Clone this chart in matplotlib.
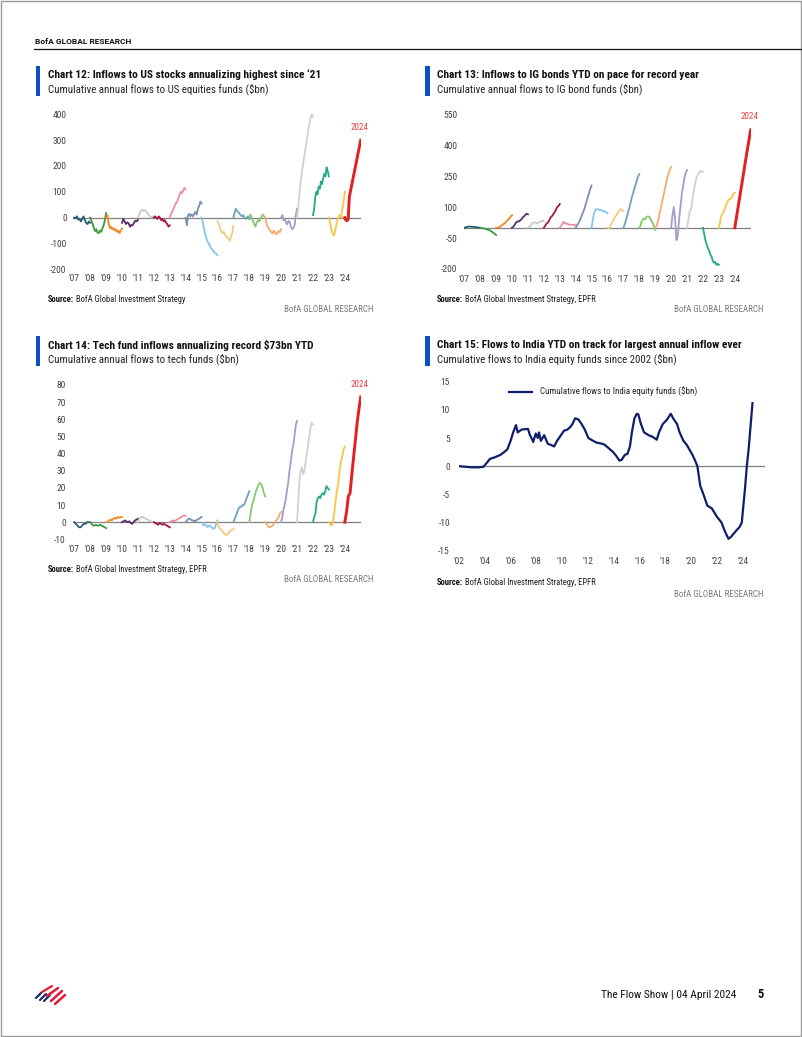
import matplotlib
matplotlib.use('Agg')
import matplotlib.pyplot as plt
from matplotlib.patches import Rectangle
from matplotlib.lines import Line2D

W, H = 802, 1037

# ---- data ----
years = list(range(2007, 2025))
year_ticks = ["'07", "'08", "'09", "'10", "'11", "'12", "'13", "'14", "'15",
              "'16", "'17", "'18", "'19", "'20", "'21", "'22", "'23", "'24"]
year_colors = ['#2a5d78', '#3c9a3c', '#ef8a22', '#5a2c6e', '#c9c9c9', '#a5163b',
               '#e98fa3', '#7c8db3', '#84c6ea', '#f6c97d', '#6aa5b8', '#84c96e',
               '#f6ab6a', '#a79bc9', '#d0d0d0', '#26a98b', '#f6c746', '#e41f1f']

# Chart 12: cumulative annual flows to US equity funds ($bn), one list per year
us_equity = [
    [0, -3, 5, -8, -5, -15, -5, 5, -10, -20, -25, -15, -20],
    [0, -12, -25, -40, -52, -45, -58, -60, -50, -55, -42, -30, -10, 18],
    [0, 10, -20, -40, -35, -45, -40, -50, -45, -55, -50, -60, -50, -42],
    [-20, -5, -15, -25, -18, -22, -35, -28, -30, -20, -12, -15, -8],
    [0, 12, 25, 30, 27, 30, 25, 20, 12, 5, 0, 5, 0],
    [0, 5, 0, -5, 5, 0, -10, -5, -15, -10, -20, -25, -35, -30],
    [0, 12, 25, 32, 45, 55, 62, 75, 88, 100, 95, 105, 115, 110],
    [0, -30, 8, 15, 5, 12, 5, 15, 22, 12, 35, 45, 62, 55],
    [0, -20, -45, -65, -80, -95, -100, -112, -120, -125, -130, -138, -140, -145],
    [-15, -22, -40, -52, -60, -55, -65, -72, -78, -82, -90, -75, -60, -32],
    [0, 20, 35, 25, 22, 15, 10, 5, 10, 0, -5, 0, 5, -5],
    [0, 12, 0, -12, -25, -35, -20, -10, -15, -5, 5, 12, 5, 0],
    [0, -22, -35, -42, -50, -56, -62, -50, -58, -65, -60, -52, -56, -45],
    [0, 10, -10, -5, -20, -26, -12, -16, -36, -45, -40, -30, 10, 35],
    [0, 40, 100, 140, 180, 210, 240, 270, 300, 330, 360, 385, 400, 390],
    [10, 30, 80, 100, 90, 120, 112, 140, 130, 152, 170, 160, 195, 180, 160],
    [0, -20, -45, -60, -70, -55, -30, -10, 5, 10, 0, 30, 60, 100],
    [0, -10, -12, -5, 80, 102, 124, 146, 168, 190, 212, 234, 256, 278, 300],
]

# Chart 13: cumulative annual flows to IG bond funds ($bn)
ig_bond = [
    [0, 2, 4, 5, 6, 5, 5, 4, 3, 3, 2, 0, 0],
    [0, -2, -3, -4, -5, -8, -10, -12, -15, -20, -25, -30, -35],
    [0, 0, 2, 5, 10, 15, 20, 25, 32, 40, 45, 55, 60],
    [0, 5, 15, 25, 30, 30, 35, 40, 50, 55, 62, 68, 65],
    [0, 5, 10, 20, 25, 25, 25, 20, 25, 30, 30, 35, 30],
    [0, 10, 20, 25, 35, 50, 55, 65, 75, 85, 100, 105, 115],
    [0, 10, 20, 28, 22, 20, 18, 15, 15, 15, 14, 12, 15],
    [0, 10, 20, 30, 45, 60, 75, 90, 110, 130, 150, 170, 190, 205],
    [0, 40, 70, 85, 90, 90, 88, 85, 85, 82, 80, 78, 75, 70],
    [0, -5, 5, 20, 30, 45, 55, 65, 75, 85, 90, 85, 80],
    [0, 15, 35, 55, 80, 100, 125, 150, 170, 190, 210, 230, 250, 260],
    [0, 10, 30, 40, 45, 40, 50, 55, 55, 50, 40, 30, 20, 5, -10],
    [0, 10, 30, 60, 90, 120, 150, 180, 210, 240, 260, 280, 295],
    [0, 60, 100, 40, -60, -40, 40, 100, 160, 200, 240, 265, 280],
    [0, 40, 80, 90, 130, 180, 210, 240, 255, 265, 275, 270, 272],
    [0, -30, -60, -80, -100, -110, -130, -140, -160, -170, -165, -180, -175, -180],
    [0, 30, 60, 70, 85, 100, 120, 130, 140, 140, 150, 165, 170],
    [0, 120, 240, 360, 475],
]

# Chart 14: cumulative annual flows to tech funds ($bn)
tech = [
    [0, -1, -2, -3, -3, -2, -1, -1, 0, 0, 0],
    [0, -1, -2, -2, -1.5, -2, -2, -1.5, -2, -2.5, -3, -3.5],
    [0, 0, 1, 1.5, 1, 2, 2.5, 2, 3, 2.5, 3, 3],
    [0, 0.5, 1, 0.5, 0, 0.5, -0.5, -1, 0, 1, 1.5, 2],
    [0, 2, 3, 3, 2.5, 2, 1.5, 1, 0.5, 0, 0],
    [0, -0.5, -1, -1.5, -0.5, -1, -1.5, -1, -1.5, -2, -2.5, -3],
    [0, 0.5, 1, 0.5, 1, 1.5, 2, 2.5, 3, 3.5, 4, 3.5],
    [0, 1, 2, 2, 1.5, 1, 1, 0.5, 1, 1.5, 2, 2.5, 3],
    [0, -1, -2, -1.5, -2, -3, -2, -2, -3, -3.5, -4, -3, -1, 1],
    [0, -3, -4, -5, -6, -7, -7.5, -7, -6, -5, -4.5, -4],
    [0, 2, 4, 6, 8, 9, 9, 10, 10, 12, 14, 16, 18],
    [0, 5, 10, 12, 15, 18, 20, 22, 23, 22, 20, 17, 15],
    [0, -1, -2, -3, -3, -2.5, -2, -1, 0, 1, 2, 3, 5, 6],
    [0, 3, 7, 10, 13, 18, 22, 28, 33, 38, 43, 46, 52, 57, 59],
    [0, 12, 25, 30, 32, 28, 30, 35, 40, 45, 50, 55, 58, 57],
    [0, 3, 5, 12, 14, 15, 14, 16, 17, 16, 18, 21, 20, 19],
    [0, -1, -2, 0, 5, 12, 18, 22, 30, 35, 38, 42, 44],
    [0, 6, 15, 17, 28, 38, 48, 58, 66, 73],
]

# Chart 15: cumulative flows to India equity funds since 2002 ($bn)
india_t = [2002.0, 2002.5, 2003.0, 2003.5, 2003.9, 2004.15, 2004.4, 2004.8, 2005.2, 2005.5,
           2005.75, 2006.0, 2006.2, 2006.42, 2006.55, 2006.85, 2007.2, 2007.35, 2007.5, 2007.62,
           2007.75, 2007.95, 2008.1, 2008.2, 2008.35, 2008.6, 2008.88, 2009.2, 2009.37, 2009.6,
           2009.9, 2010.14, 2010.4, 2010.65, 2010.8, 2011.0, 2011.25, 2011.5, 2011.75, 2012.03,
           2012.4, 2012.65, 2013.07, 2013.3, 2013.7, 2013.95, 2014.2, 2014.43, 2014.6, 2014.85,
           2015.06, 2015.25, 2015.4, 2015.6, 2015.78, 2015.9, 2016.1, 2016.35, 2016.7, 2017.02,
           2017.33, 2017.5, 2017.8, 2018.1, 2018.42, 2018.6, 2018.9, 2019.1, 2019.4, 2019.65,
           2019.85, 2020.1, 2020.3, 2020.48, 2020.7, 2020.95, 2021.25, 2021.6, 2022.0, 2022.35,
           2022.6, 2022.89, 2023.1, 2023.5, 2023.75, 2023.92, 2024.18, 2024.31, 2024.45, 2024.57,
           2024.75]
india_v = [0, -0.1, -0.2, -0.2, -0.1, 0.6, 1.3, 1.6, 2.0, 2.5,
           3.0, 4.5, 6.0, 7.3, 6.0, 6.5, 6.6, 6.6, 5.5, 5.0,
           4.3, 5.8, 5.0, 6.0, 4.5, 5.5, 4.0, 3.7, 3.5, 4.5,
           5.5, 6.3, 6.5, 7.0, 7.5, 8.5, 8.3, 7.5, 6.5, 5.0,
           4.5, 4.2, 4.0, 3.8, 3.0, 2.5, 1.8, 1.0, 1.1, 2.0,
           2.2, 3.5, 6.0, 8.5, 9.3, 9.2, 7.5, 6.0, 5.5, 5.2,
           4.7, 6.0, 7.5, 8.2, 9.3, 8.5, 7.5, 6.0, 4.5, 3.8,
           3.0, 2.0, 1.0, 0.0, -3.5, -5.0, -7.0, -7.5, -9.0, -10.0,
           -11.5, -12.9, -12.5, -11.4, -10.8, -10.0, -3.7, 0.0, 3.0, 6.3,
           11.2]
india_years = list(range(2002, 2025, 2))
india_ticks = ["'%02d" % (y % 100) for y in india_years]

plt.rcParams['font.family'] = ['Roboto Condensed', 'Liberation Sans Narrow', 'Roboto', 'DejaVu Sans']
plt.rcParams['axes.unicode_minus'] = False

fig = plt.figure(figsize=(W / 100, H / 100), dpi=100)
BLUE = '#0a4fc4'
TICK_C = '#444444'


def fx(x):
    return x / W


def fy(y):
    return 1 - y / H


def axes_px(left, top, right, bottom):
    return fig.add_axes([fx(left), fy(bottom), (right - left) / W, (bottom - top) / H])


def page_text(x, y, s, **kw):
    return fig.text(fx(x), fy(y), s, **kw)


def strip(ax, xpad, ypad):
    for s in ax.spines.values():
        s.set_visible(False)
    ax.tick_params(length=0, labelsize=6.8, labelcolor=TICK_C)
    ax.tick_params(axis='x', pad=xpad)
    ax.tick_params(axis='y', pad=ypad)
    ax.patch.set_alpha(0)


def header(x, y, title, subtitle):
    fig.add_artist(Rectangle((fx(x - 12), fy(y + 21)), 4.5 / W, 30 / H,
                             transform=fig.transFigure, color=BLUE, lw=0))
    page_text(x, y, title, fontsize=8.2, weight='bold', va='center', color='#111111')
    page_text(x, y + 14.5, subtitle, fontsize=7.8, va='center', color='#222222')


def source(ax, x, y, rest, right, y2):
    t = page_text(x, y, 'Source:', fontsize=6.2, weight='bold', va='center', color='#111111')
    ax.annotate(' ' + rest, xy=(1, 0.5), xycoords=t, va='center', ha='left',
                fontsize=6.2, color='#222222', annotation_clip=False)
    page_text(right, y2, 'BofA GLOBAL RESEARCH', fontsize=6.5, ha='right', va='center',
              color='#7a7a7a')


def year_panel(box, series, xlim, ylim, yticks, xpad, ypad):
    ax = axes_px(*box)
    for yr, vals, col in zip(years, series, year_colors):
        n = len(vals)
        xs = [yr + i / (n - 1) for i in range(n)]
        last = yr == years[-1]
        ax.plot(xs, vals, color=col, lw=2.1 if last else 1.3, zorder=4 if last else 3)
        if last:
            ax.annotate('2024', xy=(xs[-1], vals[-1]), xytext=(-1, 6),
                        textcoords='offset points', ha='center', va='bottom',
                        fontsize=6.5, color='#e8413c')
    ax.axhline(0, color='#808080', lw=0.9, zorder=2)
    ax.set_xlim(*xlim)
    ax.set_ylim(*ylim)
    ax.set_yticks(yticks)
    ax.set_xticks(years)
    ax.set_xticklabels(year_ticks)
    strip(ax, xpad, ypad)
    return ax


# Chart 12
header(47.5, 75, 'Chart 12: Inflows to US stocks annualizing highest since \u201821',
       'Cumulative annual flows to US equities funds ($bn)')
ax12 = year_panel((73.3, 114.3, 360.7, 269.3), us_equity, (2006.94, 2025.0),
                  (-200, 400), [-200, -100, 0, 100, 200, 300, 400], 3.6, 4.8)
source(ax12, 47.5, 299, 'BofA Global Investment Strategy', 374, 309.5)

# Chart 13
header(437, 75, 'Chart 13: Inflows to IG bonds YTD on pace for record year',
       'Cumulative annual flows to IG bond funds ($bn)')
ax13 = year_panel((464.3, 114.3, 750.7, 269.0), ig_bond, (2007.0, 2025.0),
                  (-200, 550), [-200, -50, 100, 250, 400, 550], 4.3, 5.0)
source(ax13, 437, 299, 'BofA Global Investment Strategy, EPFR', 764, 309.5)

# Chart 14
header(47.5, 345, 'Chart 14: Tech fund inflows annualizing record $73bn YTD',
       'Cumulative annual flows to tech funds ($bn)')
ax14 = year_panel((73.3, 385.0, 360.7, 539.3), tech, (2006.94, 2025.0),
                  (-10, 80), list(range(-10, 81, 10)), 4.2, 5.5)
source(ax14, 47.5, 569, 'BofA Global Investment Strategy, EPFR', 374, 579.5)

# Chart 15
header(437, 345, 'Chart 15: Flows to India YTD on track for largest annual inflow ever',
       'Cumulative flows to India equity funds since 2002 ($bn)')
ax15 = axes_px(459, 381.7, 765, 550.7)
ax15.plot(india_t, india_v, color='#0f1e6b', lw=1.6,
          label='Cumulative flows to India equity funds ($bn)', zorder=3)
ax15.axhline(0, color='#808080', lw=0.9, zorder=2)
ax15.set_xlim(2002, 2025.72)
ax15.set_ylim(-15, 15)
ax15.set_yticks(range(-15, 16, 5))
ax15.set_xticks(india_years)
ax15.set_xticklabels(india_ticks)
strip(ax15, 4.6, 6.5)
ax15.legend(loc='upper center', bbox_to_anchor=(0.47, 1.0), frameon=False,
            fontsize=6.5, handlelength=2.6, borderaxespad=0.2, labelcolor='#222222')
source(ax15, 437, 582.3, 'BofA Global Investment Strategy, EPFR', 763, 594.3)

# page furniture
page_text(35, 41, 'BofA GLOBAL RESEARCH', fontsize=6.0, weight='bold', va='center',
          color='#111111', family=['Roboto', 'DejaVu Sans'])
fig.add_artist(Line2D([fx(34), fx(802)], [fy(48.7), fy(48.7)], transform=fig.transFigure,
                      color='#111111', lw=0.9))
page_text(736, 995, 'The Flow Show | 04 April 2024', fontsize=8.2, ha='right', va='center',
          color='#111111')
page_text(761, 995, '5', fontsize=8.8, weight='bold', ha='center', va='center',
          color='#111111')

# bank logo stripes
for (x0, y0, x1, y1, c, w) in [(36, 998, 41, 993, '#1b2a6b', 1.6), (40, 1000, 46, 994, '#1b2a6b', 1.6),
                                (44, 1001, 50, 995, '#1b2a6b', 1.6), (42, 992, 52, 986, '#e31837', 1.6),
                                (47, 996, 58, 988, '#e31837', 1.8), (51, 1001, 62, 991, '#e31837', 1.8),
                                (55, 1004, 65, 995, '#e31837', 1.8)]:
    fig.add_artist(Line2D([fx(x0), fx(x1)], [fy(y0), fy(y1)], transform=fig.transFigure,
                          color=c, lw=w, solid_capstyle='round'))

fig.add_artist(Rectangle((fx(0.5), fy(1035.5)), 800 / W, 1035 / H, transform=fig.transFigure,
                         fill=False, edgecolor='#9a9a9a', lw=1.0))

fig.savefig('out.png', dpi=100)
